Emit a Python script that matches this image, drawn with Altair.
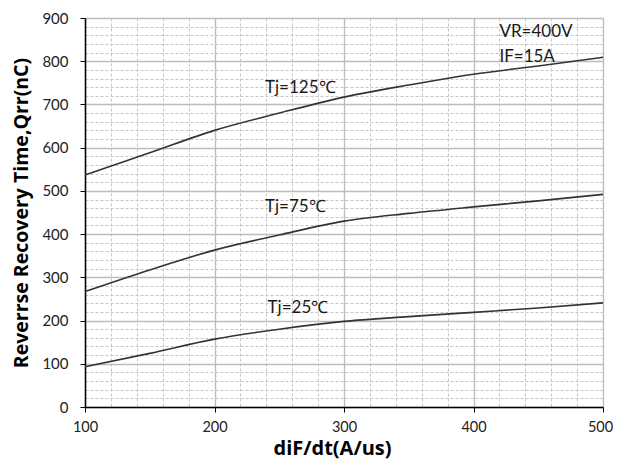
import altair as alt
import pandas as pd

# dI/dt values (A/us)
didt = [100, 150, 200, 250, 300, 350, 400, 450, 500]
# Qrr values (nC) per junction temperature
qrr_125 = [537, 588, 640, 680, 717, 745, 770, 789, 809]
qrr_75 = [267, 317, 363, 398, 430, 448, 463, 477, 492]
qrr_25 = [93, 124, 157, 180, 198, 209, 219, 229, 241]
series_names = ["Tj=125℃", "Tj=75℃", "Tj=25℃"]

# annotation texts and their anchor values
label_text = ["Tj=125℃", "Tj=75℃", "Tj=25℃", "VR=400V", "IF=15A"]
label_x = [239, 239, 241, 420, 420]
label_y = [739, 463, 229, 868, 810]

# axis tick values (minor every 20, labelled every 100)
x_ticks = list(range(100, 501, 20))
y_ticks = list(range(0, 901, 20))

rows = []
for name, vals in zip(series_names, [qrr_125, qrr_75, qrr_25]):
    for xv, yv in zip(didt, vals):
        rows.append({"series": name, "x": xv, "y": yv})
df = pd.DataFrame(rows)
lab = pd.DataFrame({"text": label_text, "x": label_x, "y": label_y})

major = "datum.value % 100 === 0"
grid_dash = {"condition": {"test": major, "value": [1, 0]}, "value": [3, 2]}
grid_width = {"condition": {"test": major, "value": 1.4}, "value": 1}
grid_color = {"condition": {"test": major, "value": "#bdbdbd"}, "value": "#c6c6c6"}
tick_op = {"condition": {"test": major, "value": 1}, "value": 0}

FONT = "Lato"
TFONT = "Open Sans"

x_axis = alt.Axis(
    values=x_ticks, grid=True, gridDash=grid_dash, gridWidth=grid_width,
    gridColor=grid_color, labelExpr="datum.value % 100 === 0 ? datum.label : ''",
    tickOpacity=tick_op, tickSize=5, tickColor="#000", domainColor="#000", domainWidth=1.5,
    labelFont=FONT, labelFontSize=14.5, labelColor="#222", labelPadding=8,
    labelOffset={"condition": {"test": "datum.value === 500", "value": -3}, "value": 0},
    labelFlush=False, labelOverlap=False,
    title="diF/dt(A/us)", titleFont=TFONT, titleFontSize=20, titleFontWeight="bold",
    titleColor="#000", titleX=247, titleY=47, titleBaseline="alphabetic", titleAlign="center",
)
y_axis = alt.Axis(
    values=y_ticks, grid=True, gridDash=grid_dash, gridWidth=grid_width,
    gridColor=grid_color, labelExpr="datum.value % 100 === 0 ? datum.label : ''",
    tickOpacity=tick_op, tickSize=5, tickColor="#000", domainColor="#000", domainWidth=1.5,
    labelFont=FONT, labelFontSize=15, labelColor="#222", labelPadding=12,
    labelOverlap=False,
    title="Reverrse Recovery Time,Qrr(nC)", titleFont=TFONT, titleFontSize=19.5,
    titleFontWeight="bold", titleColor="#000", titlePadding=10,
)

xs = alt.Scale(domain=[100, 500], nice=False, zero=False)
ys = alt.Scale(domain=[0, 900], nice=False)

lines = alt.Chart(df).mark_line(interpolate="monotone", color="#333", strokeWidth=1.6).encode(
    x=alt.X("x:Q", scale=xs, axis=x_axis),
    y=alt.Y("y:Q", scale=ys, axis=y_axis),
    detail="series:N",
)

texts = alt.Chart(lab).mark_text(align="left", baseline="middle", font=FONT, fontSize=17,
                                  color="#1a1a1a").encode(
    x=alt.X("x:Q", scale=xs, axis=x_axis),
    y=alt.Y("y:Q", scale=ys, axis=y_axis),
    text="text:N",
)

chart = alt.layer(lines, texts).properties(
    width=518, height=389,
    padding={"left": 77, "top": 10, "right": 11, "bottom": 52},
    autosize="none",
).configure_view(stroke=None).configure(background="white")

chart.save("out.html", embed_options={"renderer": "svg", "actions": False})
